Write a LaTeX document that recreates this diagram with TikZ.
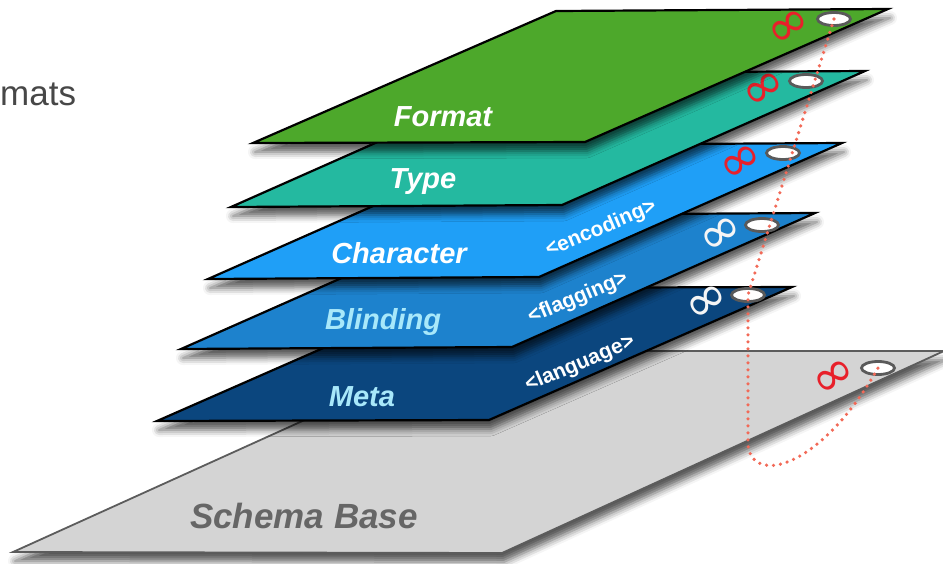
\documentclass[tikz,border=0pt]{standalone}
\usepackage{fontspec}
\setmainfont{Liberation Sans}
\newfontfamily\symbfont{DejaVu Sans}
\usetikzlibrary{shapes.geometric,shadows.blur}
\definecolor{formatgreen}{HTML}{4DA82B}
\definecolor{typeteal}{HTML}{24B9A0}
\definecolor{charblue}{HTML}{1F9FF7}
\definecolor{blindblue}{HTML}{1D82CD}
\definecolor{metablue}{HTML}{0B467E}
\definecolor{basegray}{HTML}{D4D4D4}
\definecolor{baseline}{HTML}{5C5C5C}
\definecolor{holegray}{HTML}{5A5A5A}
\definecolor{lightcyan}{HTML}{A8E8FA}
\definecolor{loopred}{HTML}{E8202A}
\definecolor{threadred}{HTML}{F26A58}
\tikzset{
  plane/.style={draw=black, line width=2.2pt, line join=miter,
    blur shadow={shadow xshift=2pt, shadow yshift=-9pt, shadow blur radius=7pt, shadow opacity=65}},
  layer/.style={font=\fontsize{29}{30}\selectfont\bfseries\itshape, inner sep=0pt},
  tag/.style={font=\fontsize{21}{22}\selectfont\bfseries, text=white, rotate=23, inner sep=0pt},
  loopmark/.style={font=\symbfont\fontsize{30}{30}\selectfont, scale=1.75, rotate=35, inner sep=0pt},
  hole/.style={ellipse, draw=holegray, line width=2.8pt, fill=white, minimum width=33pt, minimum height=13pt, inner sep=0pt},
}

\begin{document}
\begin{tikzpicture}[x=1pt, y=-1pt]
	\useasboundingbox (0,0) rectangle (943,563);

	\node[anchor=base west, inner sep=0pt, text=black!72, font=\fontsize{35}{36}\selectfont] (title) at (0,105) {mats};

	% base
	\draw[plane, draw=baseline, line width=1.8pt, fill=basegray] (13,552) -- (502,553) -- (944,351) -- (457,351) -- cycle;
	\node[layer, text=black!60, font=\fontsize{35}{36}\selectfont\bfseries\itshape] (base) at (304,516) {Schema Base};
	\node[loopmark, text=loopred] (ls) at (835,378) {∞};
	\node[hole] (hs) at (878,368) {};

	% meta
	\draw[plane, fill=metablue] (157,421) -- (489,420) -- (792,287) -- (460,288) -- cycle;
	\node[layer, text=lightcyan] (meta) at (362,397) {Meta};
	\node[tag] (lang) at (580,364) {<language>};
	\node[loopmark, text=white!92!gray] (lm) at (708,303) {∞};
	\node[hole] (hm) at (748,295) {};

	% blinding
	\draw[plane, fill=blindblue] (181,349) -- (512,347) -- (815,213) -- (484,215) -- cycle;
	\node[layer, text=lightcyan] (blind) at (383,322) {Blinding};
	\node[tag] (flag) at (578,298) {<flagging>};
	\node[loopmark, text=white!92!gray] (lb) at (722,235) {∞};
	\node[hole] (hb) at (762,225) {};

	% character
	\draw[plane, fill=charblue] (208,279) -- (539,277) -- (842,143) -- (511,145) -- cycle;
	\node[layer, text=white] (char) at (399,253) {Character};
	\node[tag] (enc) at (601,229) {<encoding>};
	\node[loopmark, text=loopred] (lc) at (742,163) {∞};
	\node[hole] (hc) at (783,153) {};

	% type
	\draw[plane, fill=typeteal] (231,207) -- (562,205) -- (865,71) -- (533,73) -- cycle;
	\node[layer, text=white] (type) at (423,182) {Type};
	\node[loopmark, text=loopred] (lt) at (765,90) {∞};
	\node[hole] (ht) at (806,81) {};

	% format
	\draw[plane, fill=formatgreen] (253,143) -- (585,142) -- (888,9) -- (556,11) -- cycle;
	\node[layer, text=white] (format) at (443,117) {Format};
	\node[loopmark, text=loopred] (lf) at (790,28) {∞};
	\node[hole] (hf) at (834,19) {};

	% thread
	\coordinate (bend) at (748,445);
	\draw[threadred, line width=3.6pt, line cap=round, dash pattern=on 0pt off 7pt]
		(hf.center) -- (hm.center) -- (bend) .. controls (752,485) and (820,470) .. (hs.center);
\end{tikzpicture}
\end{document}
